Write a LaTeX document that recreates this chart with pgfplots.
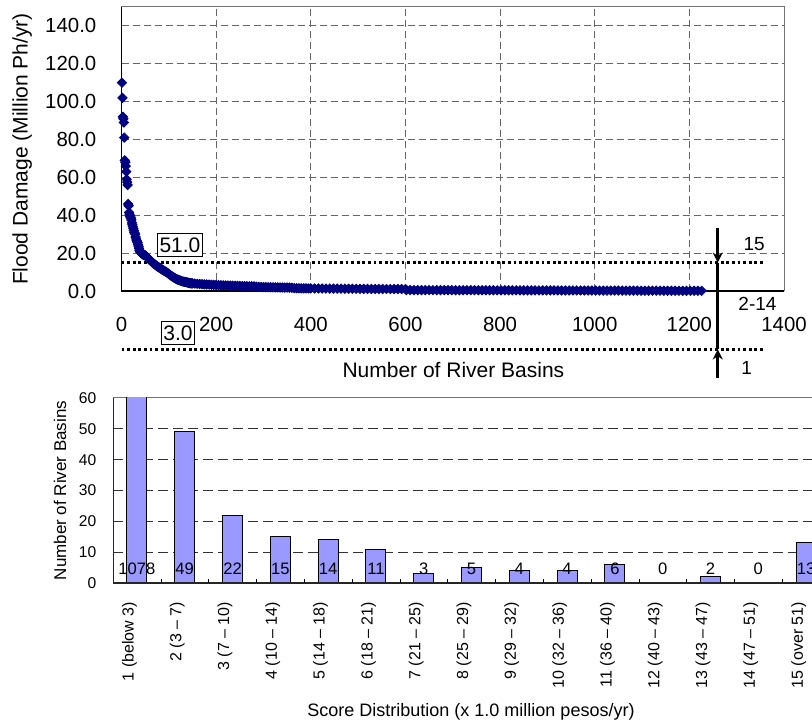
\documentclass[border=0pt]{standalone}
\usepackage{fontspec}
\setmainfont{Liberation Sans}
\usepackage{pgfplots}
\pgfplotsset{compat=1.18}
\usetikzlibrary{arrows.meta}
\definecolor{navy}{RGB}{0,0,128}
\definecolor{barblue}{RGB}{153,153,255}
\newcommand{\fs}[1]{\fontsize{#1}{#1}\selectfont}

\begin{document}
\begin{tikzpicture}
% upper chart: damage per basin, sorted
\begin{axis}[
  at={(60.75pt,218pt)}, anchor=south west,
  scale only axis, width=331.25pt, height=142pt,
  xmin=0, xmax=1400, ymin=0, ymax=150,
  xtick={0,200,...,1400}, ytick={0,20,...,140},
  grid=major,
  major grid style={black!60, line width=0.5pt, dash pattern=on 3.5pt off 2pt},
  major tick length=0pt,
  axis line style={black!55, line width=0.5pt},
  /pgf/number format/assume math mode=true,
  /pgf/number format/1000 sep={},
  tick label style={font=\fs{10.2}},
  xticklabel style={anchor=center, yshift=-16.5pt},
  yticklabel={\pgfmathprintnumber[fixed,fixed zerofill,precision=1,assume math mode=true]{\tick}},
  yticklabel style={anchor=east, inner sep=0pt, xshift=-12.4pt},
  xlabel={Number of River Basins},
  ylabel={Flood Damage (Million Ph/yr)},
  label style={font=\fs{10.5}},
  xlabel style={at={(axis description cs:0.501,-0.278)}, anchor=center},
  ylabel style={at={(axis description cs:-0.150,0.5)}, anchor=center},
  clip=false,
]
\addplot[only marks, mark=square*, mark size=1.65pt, color=navy,
  mark options={rotate=45, fill=navy, draw=navy}] coordinates {
 (1,110) (2,102) (3,92) (4,91) (5,89) (6,81) (7,69) (8,68) (9,66) (10,63)
 (11,59) (12,57.5) (13,56) (14,46) (15,45) (16,41.5) (17,40.5) (18,39.5) (19,39) (20,38.5)
 (21,37.5) (22,36) (23,35) (24,34) (25,33) (26,32) (27,31) (28,30.5) (29,30) (30,28.5)
 (31,27.5) (32,26.5) (33,26) (34,25.5) (35,24.5) (36,23.5) (37,22.5) (38,21.5) (39,21) (40,20.6)
 (41,20.3) (42,20) (43,19.8) (44,19.6) (45,19.4) (46,19.2) (47,19.1) (48,19)
 (50,18.9) (52,18.4) (54,17.9) (56,17.4) (58,16.9) (60,16.4) (62,15.9) (64,15.4) (66,14.9) (68,14.5)
 (70,14.1) (72,13.7) (74,13.3) (76,12.9) (78,12.6) (80,12.3) (82,12.0) (84,11.6) (86,11.3) (88,11.0)
 (90,10.7) (92,10.4) (94,10.1) (96,9.8) (98,9.4) (100,9.0) (102,8.6) (104,8.2) (106,7.9) (108,7.5)
 (110,7.2) (112,6.9) (114,6.6) (116,6.3) (118,6.1) (120,5.9) (122,5.7) (124,5.5) (126,5.3) (128,5.1)
 (130,5.0) (132,4.9) (134,4.8) (136,4.7) (138,4.6) (140,4.4) (142,4.3) (144,4.2) (146,4.1) (148,4.0)
 (150,4.0) (155,3.9) (160,3.8) (165,3.7) (170,3.6) (175,3.5) (180,3.45) (185,3.4) (190,3.3) (195,3.25)
 (200,3.2) (205,3.1) (210,3.05) (215,3.0) (220,2.95) (225,2.9) (230,2.85) (235,2.8) (240,2.75) (245,2.7)
 (250,2.65) (255,2.6) (260,2.6) (265,2.55) (270,2.5) (275,2.5) (280,2.45) (285,2.3) (290,2.2) (295,2.15)
 (300,2.1) (305,2.05) (310,2.0) (315,2.0) (320,1.95) (325,1.9) (330,1.9) (335,1.85) (340,1.85) (345,1.8)
 (350,1.8) (355,1.75) (360,1.7) (365,1.5) (370,1.45) (375,1.45) (380,1.4) (385,1.4) (390,1.4) (395,1.35)
 (400,1.35) (408,1.33) (416,1.32) (424,1.3) (432,1.29) (440,1.27) (448,1.26) (456,1.24) (464,1.22) (472,1.21)
 (480,1.19) (488,1.18) (496,1.16) (504,1.15) (512,1.13) (520,1.12) (528,1.1) (536,1.09) (544,1.07) (552,1.06)
 (560,1.05) (568,1.04) (576,1.03) (584,1.02) (592,1.01) (600,1.0)
 (602,0.50) (610,0.49) (618,0.49) (626,0.48) (634,0.48) (642,0.47) (650,0.47) (658,0.46) (666,0.46) (674,0.45)
 (682,0.45) (690,0.44) (698,0.44) (706,0.43) (714,0.43) (722,0.42) (730,0.42) (738,0.41) (746,0.41) (754,0.40)
 (762,0.40) (770,0.39) (778,0.39) (786,0.38) (794,0.38) (802,0.37) (810,0.37) (818,0.36) (826,0.36) (834,0.35)
 (842,0.35) (850,0.34) (858,0.34) (866,0.33) (874,0.33) (882,0.32) (890,0.32) (898,0.31) (906,0.31) (914,0.30)
 (922,0.30) (930,0.29) (938,0.29) (946,0.28) (954,0.28) (962,0.27) (970,0.27) (978,0.26) (986,0.26) (994,0.25)
 (1002,0.25) (1010,0.24) (1018,0.23) (1026,0.23) (1034,0.22) (1042,0.22) (1050,0.21) (1058,0.20) (1066,0.20) (1074,0.19)
 (1082,0.19) (1090,0.18) (1098,0.17) (1106,0.17) (1114,0.16) (1122,0.15) (1130,0.15) (1138,0.14) (1146,0.13) (1154,0.13)
 (1162,0.12) (1170,0.12) (1178,0.11) (1186,0.11) (1194,0.10) (1202,0.10) (1210,0.09) (1218,0.09) (1226,0.08)
};
\draw[black, line width=0.7pt] (rel axis cs:0,1) -- (rel axis cs:0,0) -- (rel axis cs:1,0);
% class boundaries
\draw[black, line width=1.4pt, dash pattern=on 1.4pt off 1.4pt] (axis cs:0,15) -- (axis cs:1356,15);
\draw[black, line width=1.4pt, dash pattern=on 1.4pt off 1.4pt] (axis cs:0,-30.9) -- (axis cs:1356,-30.9);
\node[draw=black, fill=white, line width=0.5pt, inner xsep=1pt, inner ysep=2.2pt, font=\fs{10.5}] at (axis cs:123.6,24.3) {51.0};
\node[draw=black, fill=white, line width=0.5pt, inner xsep=1pt, inner ysep=2.2pt, font=\fs{10.5}] at (axis cs:119.4,-22.2) {3.0};
\draw[line width=1.5pt, -{Stealth[length=5pt,width=5pt]}] (axis cs:1260,33.3) -- (axis cs:1260,15);
\draw[line width=1.5pt] (axis cs:1260,15) -- (axis cs:1260,-30.9);
\draw[line width=1.5pt, -{Stealth[length=5pt,width=5pt]}] (axis cs:1260,-45.9) -- (axis cs:1260,-30.9);
\node[font=\fs{9.5}] at (axis cs:1337,24.8) {15};
\node[font=\fs{9.5}] at (axis cs:1344,-6.6) {2-14};
\node[font=\fs{9.5}] at (axis cs:1321,-40.7) {1};
\end{axis}

% lower chart: score distribution
\begin{axis}[
  at={(56.5pt,72pt)}, anchor=south west,
  scale only axis, width=358.5pt, height=92.5pt,
  xmin=0.5, xmax=15.5, ymin=0, ymax=60,
  xtick={1,...,15},
  xticklabels={1 (below 3),2 (3 -- 7),3 (7 -- 10),4 (10 -- 14),5 (14 -- 18),6 (18 -- 21),7 (21 -- 25),8 (25 -- 29),9 (29 -- 32),10 (32 -- 36),11 (36 -- 40),12 (40 -- 43),13 (43 -- 47),14 (47 -- 51),15 (over 51)},
  minor xtick={1.5,2.5,...,14.5},
  xtick pos=left,
  ytick={0,10,...,60},
  ymajorgrids,
  major grid style={black!80, line width=0.5pt, dash pattern=on 5pt off 2.5pt},
  major tick length=0pt, minor tick length=2pt, tick align=inside,
  minor tick style={black},
  axis line style={black!55, line width=0.5pt},
  /pgf/number format/assume math mode=true,
  yticklabel style={font=\fs{7.8}, anchor=east, inner sep=0pt, xshift=-8.2pt},
  xticklabel style={font=\fs{8}, xshift=-3.75pt, yshift=-9.3pt, rotate=90, anchor=east, inner sep=0pt},
  xlabel={Score Distribution (x 1.0 million pesos/yr)},
  ylabel={Number of River Basins},
  xlabel style={font=\fs{9}, at={(axis description cs:0.4993,-0.697)}, anchor=center},
  ylabel style={font=\fs{8.5}, at={(axis description cs:-0.0739,0.5)}, anchor=center},
]
\addplot[ybar, bar width=10pt, fill=barblue, draw=black, line width=0.5pt] coordinates {
 (1,1078) (2,49) (3,22) (4,15) (5,14) (6,11) (7,3) (8,5) (9,4) (10,4) (11,6) (12,0) (13,2) (14,0) (15,13)
};
\addplot[draw=none, mark=none, nodes near coords, point meta=explicit symbolic,
  nodes near coords style={anchor=center, font=\fs{8.3}, inner sep=0pt}] coordinates {
 (1,4.5)[1078] (2,4.5)[49] (3,4.5)[22] (4,4.5)[15] (5,4.5)[14] (6,4.5)[11] (7,4.5)[3] (8,4.5)[5]
 (9,4.5)[4] (10,4.5)[4] (11,4.5)[6] (12,4.5)[0] (13,4.5)[2] (14,4.5)[0] (15,4.5)[13]
};
\draw[black!85, line width=0.9pt] (rel axis cs:0,1) -- (rel axis cs:0,0) -- (rel axis cs:1,0);
\end{axis}

\pgfresetboundingbox
\useasboundingbox (0,0) rectangle (406pt,363.5pt);
\end{tikzpicture}
\end{document}
